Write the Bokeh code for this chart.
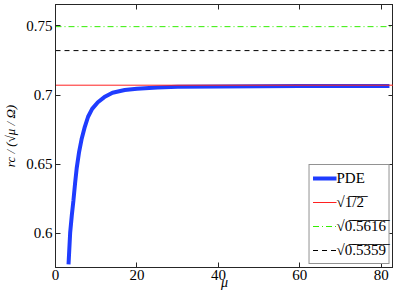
from bokeh.plotting import figure
from bokeh.models import Range1d, LinearAxis, FixedTicker, Legend, LegendItem
from bokeh.embed import file_html
from bokeh.resources import INLINE

# PDE curve
mu = [3.2, 3.6, 4.0, 4.4, 4.8, 5.2, 5.8, 6.4, 7.2, 8.0, 9.0, 10.4, 12.0, 14.0, 17.0, 20.0, 25.0, 30.0, 40.0, 50.0, 60.0, 70.0, 82.0]
rc = [0.5777, 0.6005, 0.6130, 0.6237, 0.6360, 0.6470, 0.6590, 0.6680, 0.6770, 0.6843, 0.6900, 0.6948, 0.6985, 0.7017, 0.7036, 0.7046, 0.7055, 0.7059, 0.7062, 0.7064, 0.7065, 0.7066, 0.7066]

# reference constants
ref_vals = [0.7071, 0.7494, 0.7321]
ref_labels = ["√1̅/̅2̅", "√0̅.̅5̅6̅1̅6̅", "√0̅.̅5̅3̅5̅9̅"]

x_ticks = [0, 20, 40, 60, 80]
y_ticks = [0.6, 0.65, 0.7, 0.75]
x_lim = (0, 83)
y_lim = (0.5754, 0.7654)

FONT = "Liberation Serif"

p = figure(width=393, height=292, output_backend="svg", toolbar_location=None,
           x_range=Range1d(*x_lim), y_range=Range1d(*y_lim),
           min_border_left=54, min_border_right=0, min_border_top=4, min_border_bottom=0)
p.grid.visible = False
p.outline_line_color = "#262626"
p.background_fill_color = "white"

for ax in (p.xaxis[0], p.yaxis[0]):
    ax.major_tick_in = 5
    ax.major_tick_out = 0
    ax.minor_tick_line_color = None
    ax.axis_line_color = "#262626"
    ax.major_tick_line_color = "#262626"
    ax.major_label_text_font = FONT
    ax.major_label_text_font_size = "15px"
    ax.major_label_text_color = "black"
    ax.axis_label_text_font = FONT
    ax.axis_label_text_font_style = "italic"
    ax.axis_label_text_color = "black"

p.xaxis.ticker = FixedTicker(ticks=x_ticks)
p.yaxis.ticker = FixedTicker(ticks=y_ticks)
p.yaxis.major_label_overrides = {0.6: "0.6", 0.65: "0.65", 0.7: "0.7", 0.75: "0.75"}
p.xaxis.axis_label = "μ"
p.xaxis.axis_label_text_font_size = "14px"
p.xaxis.axis_label_standoff = -8
p.xaxis.major_label_standoff = 2
p.yaxis.axis_label = "rc / (√μ / Ω)"
p.yaxis.axis_label_text_font_size = "13px"
p.yaxis.axis_label_standoff = 5
p.yaxis.major_label_standoff = 3

for side, ticks in (("right", y_ticks), ("above", x_ticks)):
    ax = LinearAxis(ticker=FixedTicker(ticks=ticks))
    ax.major_label_overrides = {t: "" for t in ticks}
    ax.major_tick_in = 5
    ax.major_tick_out = 0
    ax.minor_tick_line_color = None
    ax.major_label_standoff = 0
    ax.axis_line_color = "#262626"
    ax.major_tick_line_color = "#262626"
    p.add_layout(ax, side)

r_pde = p.line(mu, rc, line_color="#1f3cff", line_width=4)
r1 = p.line(list(x_lim), [ref_vals[0]] * 2, line_color="#ff2020", line_width=1)
r2 = p.line(list(x_lim), [ref_vals[1]] * 2, line_color="#33ee00", line_width=1, line_dash="6 3 1 3")
r3 = p.line(list(x_lim), [ref_vals[2]] * 2, line_color="black", line_width=1, line_dash="5 4")

legend = Legend(items=[
    LegendItem(label="PDE", renderers=[r_pde]),
    LegendItem(label=ref_labels[0], renderers=[r1]),
    LegendItem(label=ref_labels[1], renderers=[r2]),
    LegendItem(label=ref_labels[2], renderers=[r3]),
], location="bottom_right")
legend.label_text_font = FONT
legend.label_text_font_size = "15px"
legend.label_text_color = "black"
legend.border_line_color = "#262626"
legend.border_line_width = 1
legend.background_fill_alpha = 1
legend.glyph_width = 24
legend.glyph_height = 20
legend.spacing = 4
legend.padding = 3
legend.margin = 3
legend.label_standoff = 0
p.add_layout(legend)

open("out.html", "w").write(file_html(p, INLINE))
